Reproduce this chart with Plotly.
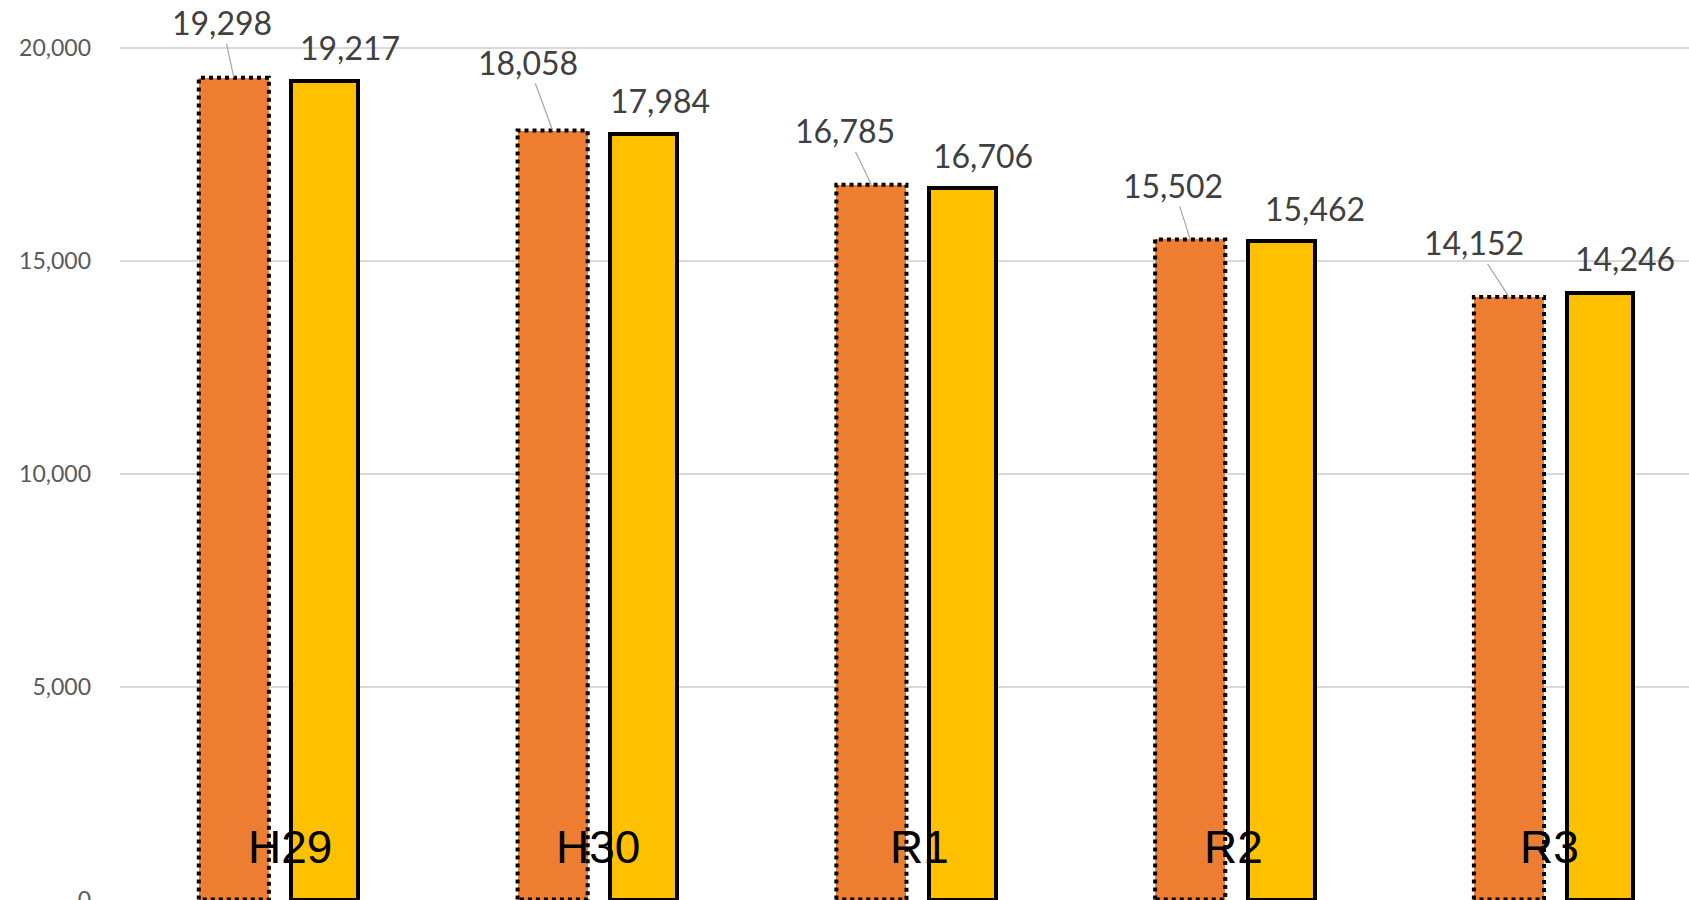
import numpy as np
import plotly.graph_objects as go

# ---- data ----
categories = ["H29", "H30", "R1", "R2", "R3"]
series_a = [19298, 18058, 16785, 15502, 14152]   # orange (dotted outline)
series_b = [19217, 17984, 16706, 15462, 14246]   # yellow (solid outline)
y_ticks = [0, 5000, 10000, 15000, 20000]

# ---- label placement (pixel offsets) ----
a_label_dx = [-12, -25, -26, -17, -35]
a_label_dy = [-55, -68, -54, -54, -54]
b_label_dx = [25, 16, 21, 34, 25]
b_label_dy = [34, 33, 33, 33, 34]
cat_label_dx = [11, 0, 3, -2, -5]

ORANGE = "#ED7D31"
YELLOW = "#FFC000"
OFF = 0.1428
BW = 0.22

idx = np.arange(len(categories))
xa = idx - OFF
xb = idx + OFF

fig = go.Figure()
fig.add_trace(go.Bar(x=xa, y=series_a, width=BW, marker=dict(color=ORANGE, line=dict(width=0)),
                     hoverinfo="y"))
fig.add_trace(go.Bar(x=xb, y=series_b, width=BW - 0.01,
                     marker=dict(color=YELLOW, line=dict(color="black", width=4)),
                     hoverinfo="y"))

# dotted outline for orange bars
ox, oy = [], []
for x, v in zip(xa, series_a):
    x0, x1 = x - BW / 2, x + BW / 2
    ox += [x0, x0, x1, x1, x0, None]
    oy += [0, v, v, 0, 0, None]
fig.add_trace(go.Scatter(x=ox, y=oy, mode="lines", line=dict(color="black", width=4, dash="dot"),
                         hoverinfo="skip", cliponaxis=True))

annotations = []
for i, (x, v) in enumerate(zip(xa, series_a)):
    annotations.append(dict(x=x, y=v, xref="x", yref="y", text=f"{v:,}", showarrow=True,
                            arrowhead=0, arrowwidth=1.2, arrowcolor="#a6a6a6",
                            ax=a_label_dx[i], ay=a_label_dy[i],
                            font=dict(family="Lato", size=32, color="#404040")))
for i, (x, v) in enumerate(zip(xb, series_b)):
    annotations.append(dict(x=x, y=v, xref="x", yref="y", text=f"{v:,}", showarrow=False,
                            xanchor="center", yanchor="middle",
                            xshift=b_label_dx[i], yshift=b_label_dy[i],
                            font=dict(family="Lato", size=32, color="#404040")))
for i, c in enumerate(categories):
    annotations.append(dict(x=i, y=0.059, xref="x", yref="paper", text=c, showarrow=False,
                            xanchor="center", yanchor="middle", xshift=cat_label_dx[i],
                            font=dict(family="Liberation Sans", size=46, color="black")))

fig.update_layout(
    width=1689, height=900,
    margin=dict(l=120, r=0, t=0, b=0, autoexpand=False),
    paper_bgcolor="white", plot_bgcolor="white",
    showlegend=False,
    bargap=0, barmode="overlay",
    annotations=annotations,
    xaxis=dict(range=[-0.5, 4.422], showticklabels=False, showgrid=False, zeroline=False,
               showline=False, ticks="", automargin=False),
    yaxis=dict(range=[-10, 21123], tickvals=y_ticks, tickformat=",", showgrid=True,
               gridcolor="#d9d9d9", gridwidth=1.5, zeroline=False, showline=False,
               ticks="", ticklabelstandoff=28, ticklabeloverflow="allow", automargin=False,
               tickfont=dict(family="Lato", size=23, color="#595959")),
)

fig.write_html("out.html", config={"displayModeBar": False},
               post_script="document.body.style.margin='0';")
